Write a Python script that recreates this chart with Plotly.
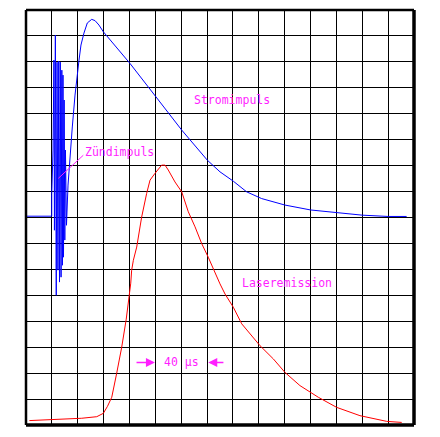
import plotly.graph_objects as go

# time in microseconds (20 us per division), amplitude in divisions
strom_t = [0.5, 19.9, 19.9, 20.9, 21.6, 22.0, 22.7, 23.4, 24.0, 24.7, 25.3, 25.9, 26.5, 27.1, 27.7,
           28.2, 28.6, 29.0, 29.5, 30.0, 30.5, 31.3, 32.5, 34.0, 35.8, 37.9, 39.7, 41.0, 42.5, 44.8,
           47.4, 50.8, 53.4, 56.4, 59.8, 80.4, 100.5, 120.4, 140.2, 150.0, 160.3, 170.6, 182.2,
           200.2, 220.1, 239.9, 260.0, 280.1, 294.3]
strom_y = [8.05, 8.05, 8.89, 10.60, 14.07, 7.51, 15.03, 5.00, 13.99, 5.97, 14.03, 5.51, 13.99, 5.70,
           13.68, 6.16, 13.49, 6.47, 12.53, 7.13, 10.60, 7.70, 9.25, 10.41, 11.49, 12.72, 13.68, 14.07,
           14.65, 15.11, 15.50, 15.64, 15.59, 15.42, 15.16, 13.94, 12.65, 11.37, 10.21, 9.76, 9.40,
           8.99, 8.73, 8.48, 8.29, 8.18, 8.09, 8.04, 8.04]

laser_t = [2.6, 23.7, 43.1, 54.7, 59.8, 63.0, 66.3, 70.1, 74.0, 77.5, 79.9, 81.0, 81.7, 83.0, 85.6,
           89.4, 93.3, 95.9, 99.7, 103.6, 104.9, 107.5, 110.0, 115.2, 120.4, 125.5, 130.7, 135.8,
           140.9, 150.0, 153.9, 160.3, 166.8, 180.9, 191.2, 200.2, 211.8, 226.0, 240.2, 258.2,
           278.9, 290.5]
laser_y = [0.17, 0.21, 0.26, 0.32, 0.45, 0.72, 1.07, 1.99, 3.00, 4.08, 5.00, 5.47, 5.97, 6.35, 6.86,
           8.01, 8.93, 9.44, 9.70, 9.95, 10.02, 10.02, 9.83, 9.37, 8.99, 8.22, 7.64, 7.00, 6.47,
           5.44, 5.05, 4.54, 3.90, 3.06, 2.55, 2.03, 1.52, 1.07, 0.68, 0.36, 0.14, 0.10]

labels = ["Stromimpuls", "Zündimpuls", "Laseremission", "40 µs"]
label_t = [159.6, 72.1, 201.5, 120.4]
label_y = [12.52, 10.51, 5.47, 2.41]

MAG = "#ff1eff"
FONT = "DejaVu Sans Mono"

fig = go.Figure()
fig.add_trace(go.Scatter(x=strom_t, y=strom_y, mode="lines",
                         line=dict(color="#0000ff", width=1), showlegend=False))
fig.add_trace(go.Scatter(x=laser_t, y=laser_y, mode="lines",
                         line=dict(color="#ff0000", width=1), showlegend=False))

for txt, tx, ty in zip(labels, label_t, label_y):
    fig.add_annotation(x=tx, y=ty, text=txt, showarrow=False,
                       font=dict(family=FONT, size=11.5, color=MAG))

# leader line for Zündimpuls
fig.add_shape(type="line", x0=25.0, y0=9.51, x1=44.3, y1=10.40,
              line=dict(color=MAG, width=1))

# 40 us arrows
fig.add_annotation(x=99.7, y=2.41, ax=84.3, ay=2.41, axref="x", ayref="y",
                   showarrow=True, arrowhead=2, arrowsize=1.2, arrowwidth=1.5,
                   arrowcolor=MAG, text="")
fig.add_annotation(x=140.9, y=2.41, ax=153.8, ay=2.41, axref="x", ayref="y",
                   showarrow=True, arrowhead=2, arrowsize=1.2, arrowwidth=1.5,
                   arrowcolor=MAG, text="")

# frame
for (x0, y0, x1, y1, w) in [(0, 0, 0, 1, 2.5), (0, 1, 1, 1, 2.5), (1, 0, 1, 1, 3.5), (0, 0, 1, 0, 3.5)]:
    fig.add_shape(type="line", xref="paper", yref="paper", x0=x0, y0=y0, x1=x1, y1=y1,
                  line=dict(color="black", width=w))

fig.update_xaxes(range=[0, 300], dtick=20, tick0=0, showgrid=True, gridcolor="black",
                 gridwidth=1, zeroline=False, showticklabels=False, ticks="", showline=False)
fig.update_yaxes(range=[0, 16], dtick=1, tick0=0, showgrid=True, gridcolor="black",
                 gridwidth=1, zeroline=False, showticklabels=False, ticks="", showline=False)

fig.update_layout(width=424, height=421, margin=dict(l=18, r=18, t=2, b=4),
                  paper_bgcolor="white", plot_bgcolor="white", showlegend=False)

fig.write_html("out.html")
